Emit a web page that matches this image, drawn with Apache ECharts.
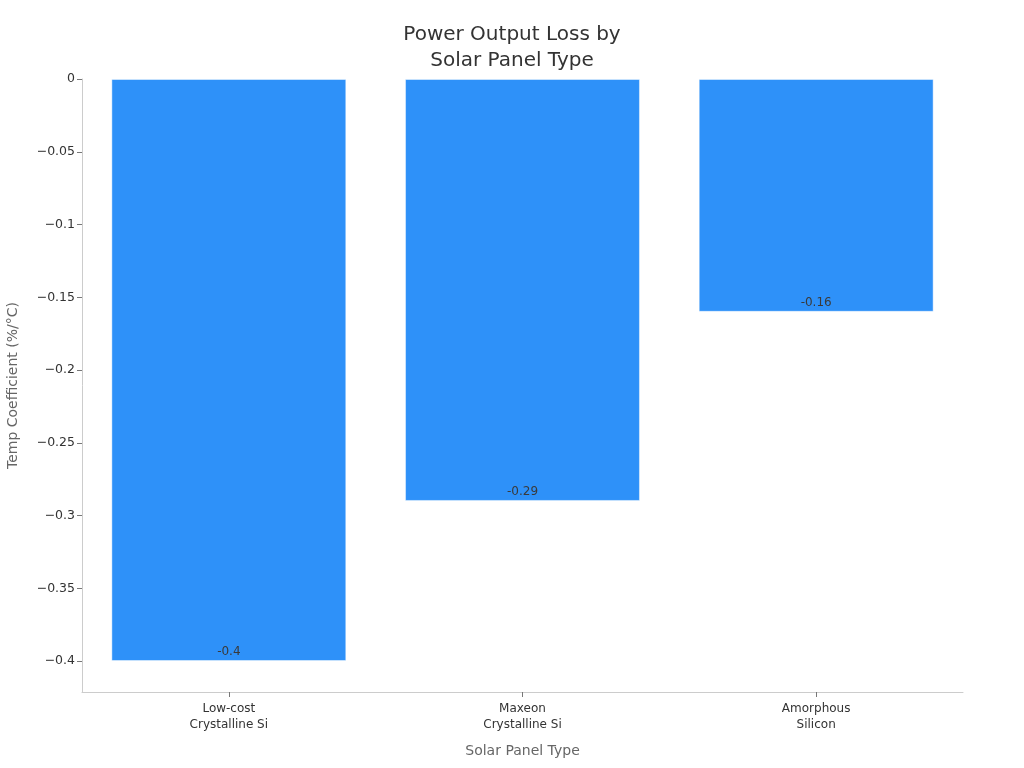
<!DOCTYPE html>
<html>
<head>
<meta charset="utf-8">
<title>Power Output Loss by Solar Panel Type</title>
<script src="https://cdn.jsdelivr.net/npm/echarts@6/dist/echarts.min.js"></script>
<style>
  html, body { margin: 0; padding: 0; background: #fff; }
  #app { width: 1024px; height: 768px; }
</style>
</head>
<body>
<div id="app"></div>
<script>
// data
var panelTypes = ['Low-cost\nCrystalline Si', 'Maxeon\nCrystalline Si', 'Amorphous\nSilicon'];
var tempCoefficients = [-0.4, -0.29, -0.16];
var yTicks = [0, -0.05, -0.1, -0.15, -0.2, -0.25, -0.3, -0.35, -0.4];

var FONT = 'DejaVu Sans';

function minusSign(v) {
  // axis uses a real minus sign, bar labels keep the hyphen
  return v < 0 ? '\u2212' + String(Math.abs(v)) : String(v);
}

var chart = echarts.init(document.getElementById('app'));

chart.setOption({
  backgroundColor: '#fff',
  animation: false,
  textStyle: { fontFamily: FONT },
  title: {
    text: 'Power Output Loss by\nSolar Panel Type',
    left: 'center',
    top: 17,
    textStyle: {
      fontFamily: FONT,
      fontSize: 20,
      fontWeight: 'normal',
      color: '#333',
      lineHeight: 26
    }
  },
  grid: { left: 82, right: 61, top: 79, bottom: 76, outerBoundsMode: 'none', containLabel: false },
  xAxis: {
    type: 'category',
    data: panelTypes,
    name: 'Solar Panel Type',
    nameLocation: 'middle',
    nameGap: 52,
    nameTextStyle: { fontFamily: FONT, fontSize: 14, color: '#666' },
    axisLine: { onZero: false, lineStyle: { color: '#ccc' } },
    axisTick: { show: true, alignWithLabel: true, length: 5, lineStyle: { color: '#777' } },
    axisLabel: { fontFamily: FONT, fontSize: 12, color: '#333', margin: 9, lineHeight: 16 }
  },
  yAxis: {
    type: 'value',
    min: -0.4213,
    max: 0,
    name: 'Temp Coefficient (%/\u00b0C)',
    nameLocation: 'middle',
    nameGap: 62,
    nameTextStyle: { fontFamily: FONT, fontSize: 14, color: '#666' },
    axisLine: { show: true, lineStyle: { color: '#ccc' } },
    axisTick: { show: true, length: 5, customValues: yTicks, lineStyle: { color: '#777' } },
    axisLabel: {
      fontFamily: FONT,
      fontSize: 12.5,
      color: '#333',
      margin: 7,
      customValues: yTicks,
      formatter: minusSign
    },
    splitLine: { show: false }
  },
  series: [{
    type: 'bar',
    data: tempCoefficients,
    barWidth: '80%',
    itemStyle: {
      color: '#2e91f9',
      borderColor: 'rgba(255,255,255,0.45)',
      borderWidth: 1
    },
    label: {
      show: true,
      position: 'insideBottom',
      distance: 3,
      fontFamily: FONT,
      fontSize: 12,
      color: '#3a3a3a'
    }
  }]
});
</script>
</body>
</html>
